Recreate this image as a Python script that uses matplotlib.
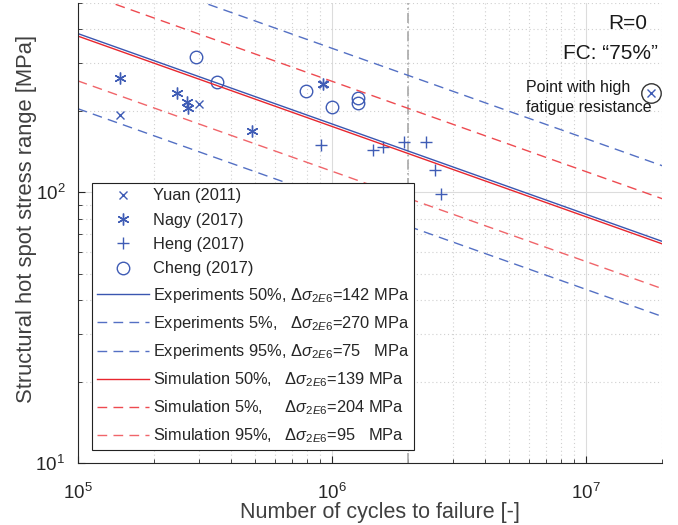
import numpy as np
import matplotlib
matplotlib.use("Agg")
import matplotlib.pyplot as plt

plt.rcParams['font.family'] = ['Liberation Sans', 'DejaVu Sans']
plt.rcParams['mathtext.fontset'] = 'custom'
plt.rcParams['mathtext.rm'] = 'Liberation Sans'
plt.rcParams['mathtext.it'] = 'Liberation Sans:italic'

# ---- data ----
yuan_N = [1.467e5, 2.99e5, 9.22e5]
yuan_S = [192.7, 211, 250]
nagy_N = [1.467e5, 2.466e5, 2.685e5, 2.71e5, 4.84e5, 9.22e5]
nagy_S = [264, 232, 216, 204, 168, 250]
heng_N = [9.05e5, 1.458e6, 1.596e6, 1.926e6, 2.344e6, 2.55e6, 2.685e6]
heng_S = [149, 143.2, 146.5, 153.7, 153.7, 120.9, 98.3]
cheng_N = [2.92e5, 3.52e5, 7.92e5, 1.002e6, 1.272e6, 1.272e6]
cheng_S = [315, 256, 237, 206, 223, 213]
high_N = [1.81e7]
high_S = [232]

curve_names = ['Experiments 50%', 'Experiments 5%', 'Experiments 95%',
               'Simulation 50%', 'Simulation 5%', 'Simulation 95%']
curve_dsc = [142, 270, 75, 139, 204, 95]
slope_m = 3
N_ref = 2e6

blue = '#3a56b0'
blue_d = '#5470c4'
red = '#e8262e'
red_d = '#ee4a50'
mk = '#3f5cb5'

fig = plt.figure(figsize=(6.78, 5.25), dpi=100)
ax = fig.add_axes([0.1146, 0.1175, 0.8622, 0.877])
ax.set_xscale('log')
ax.set_yscale('log')
ax.set_xlim(1e5, 2e7)
ax.set_ylim(10, 500)

ax.grid(True, which='major', color='#dcdcdc', lw=0.8, ls='-')
ax.grid(True, which='minor', color='#d0d0d0', lw=0.8, ls=(0, (1, 2.5)))
ax.set_axisbelow(True)

ax.axvline(N_ref, color='#a8a8a8', lw=1.2, ls=(0, (6, 2, 1, 2)), zorder=1)

Nline = np.logspace(5, np.log10(2e7), 50)
styles = [
    dict(color=blue, ls='-', lw=1.0),
    dict(color=blue_d, ls=(0, (7, 4.5)), lw=1.0),
    dict(color=blue_d, ls=(0, (7, 4.5)), lw=1.0),
    dict(color=red, ls='-', lw=1.0),
    dict(color=red_d, ls=(0, (7, 4.5)), lw=1.0),
    dict(color=red_d, ls=(0, (7, 4.5)), lw=1.0, alpha=0.85),
]

h_y, = ax.plot(yuan_N, yuan_S, ls='none', marker='x', ms=6, mec=mk, mew=1.0, color=mk)
h_n, = ax.plot(nagy_N, nagy_S, ls='none', marker=(6, 2, 0), ms=8.5, mec=mk, mew=1.0, color=mk)
h_h, = ax.plot(heng_N, heng_S, ls='none', marker='+', ms=8, mec=mk, mew=1.0, color=mk)
h_c, = ax.plot(cheng_N, cheng_S, ls='none', marker='o', ms=9, mfc='none', mec=mk, mew=1.0)
ax.plot(high_N, high_S, ls='none', marker='x', ms=6, mec=mk, mew=1.0)
ax.plot(high_N, high_S, ls='none', marker='o', ms=14, mfc='none', mec='#333333', mew=1.0)

labels_txt = [
    r'Experiments 50%, $\Delta\sigma_{2E6}$=142 MPa',
    r'Experiments 5%,   $\Delta\sigma_{2E6}$=270 MPa',
    r'Experiments 95%, $\Delta\sigma_{2E6}$=75   MPa',
    r'Simulation 50%,   $\Delta\sigma_{2E6}$=139 MPa',
    r'Simulation 5%,     $\Delta\sigma_{2E6}$=204 MPa',
    r'Simulation 95%,   $\Delta\sigma_{2E6}$=95   MPa',
]
line_handles = []
for dsc, st in zip(curve_dsc, styles):
    S = dsc * (N_ref / Nline) ** (1.0 / slope_m)
    h, = ax.plot(Nline, S, **st)
    line_handles.append(h)

handles = [h_y, h_n, h_h, h_c] + line_handles
labels = ['Yuan (2011)', 'Nagy (2017)', 'Heng (2017)', 'Cheng (2017)'] + labels_txt
leg = ax.legend(handles, labels, loc='upper left', bbox_to_anchor=(0.024, 0.608),
                borderaxespad=0, fontsize=11.8, frameon=True, fancybox=False,
                edgecolor='#222222', framealpha=1, handlelength=3.2,
                handletextpad=0.25, labelspacing=0.57, borderpad=0.3)
leg.get_frame().set_linewidth(0.8)
for t in leg.get_texts():
    t.set_color('#262626')

ax.text(0.974, 0.955, 'R=0', transform=ax.transAxes, ha='right', va='center',
        fontsize=15, color='#1a1a1a')
ax.text(0.9925, 0.89, 'FC: \u201c75%\u201d', transform=ax.transAxes, ha='right', va='center',
        fontsize=15, color='#1a1a1a')
ax.text(0.767, 0.7945, 'Point with high\nfatigue resistance', transform=ax.transAxes,
        ha='left', va='center', fontsize=11.5, color='#1a1a1a', linespacing=1.45)

for s in ['top', 'right']:
    ax.spines[s].set_visible(False)
for s in ['left', 'bottom']:
    ax.spines[s].set_color('#262626')
    ax.spines[s].set_linewidth(0.8)
ax.tick_params(which='both', direction='in', colors='#262626', labelsize=13.5)
ax.tick_params(axis='x', which='major', pad=14)
ax.tick_params(axis='y', which='major', pad=9)
ax.tick_params(which='major', length=5)
ax.tick_params(which='minor', length=3)
ax.yaxis.set_minor_formatter(matplotlib.ticker.NullFormatter())
ax.xaxis.set_minor_formatter(matplotlib.ticker.NullFormatter())

ax.set_xlabel('Number of cycles to failure [-]', fontsize=15.5, color='#404040')
ax.set_ylabel('Structural hot spot stress range [MPa]', fontsize=15.8, color='#404040')
ax.xaxis.set_label_coords(0.517, -0.084)
ax.yaxis.set_label_coords(-0.07, 0.53)

fig.savefig('out.png', dpi=100)
